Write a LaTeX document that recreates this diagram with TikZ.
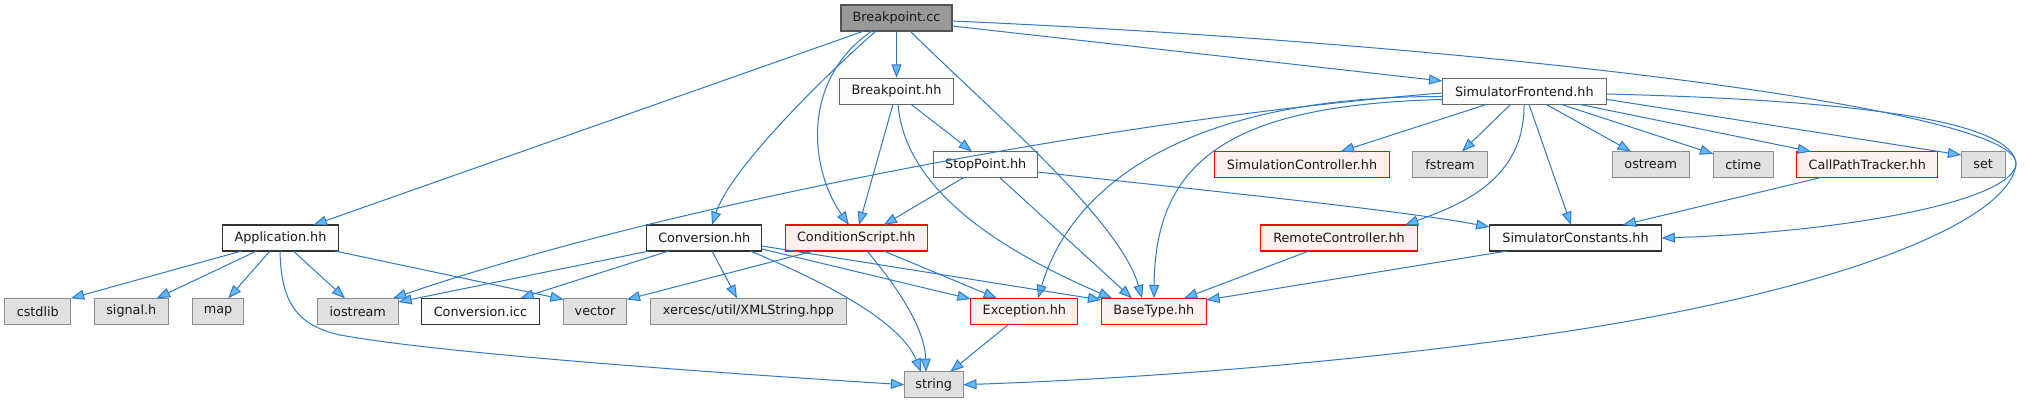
\documentclass[tikz,border=0pt]{standalone}
\usepackage{fontspec}
\setmainfont{DejaVu Sans}
\usetikzlibrary{arrows.meta,calc}
\definecolor{edgec}{HTML}{3079C4}
\definecolor{arrf}{HTML}{63B8FF}
\definecolor{rootfill}{HTML}{999999}
\definecolor{rootdraw}{HTML}{555555}
\definecolor{docfill}{HTML}{FBFDFB}
\definecolor{docdraw}{HTML}{666666}
\definecolor{docdark}{HTML}{333333}
\definecolor{extfill}{HTML}{E0E0E0}
\definecolor{extdraw}{HTML}{8C8C8C}
\definecolor{trfill}{HTML}{FFF0F0}
\definecolor{trdraw}{HTML}{FF0000}
\begin{document}
\begin{tikzpicture}[x=0.75pt,y=-0.75pt,
  font=\fontsize{9.6}{11}\selectfont,
  box/.style={line width=0.9pt, minimum height=19.5pt, inner sep=0pt, anchor=center, text=black!90},
  bw/.style={minimum width=#1*0.75pt},
  rootn/.style={box, fill=rootfill, draw=rootdraw},
  docn/.style={box, fill=docfill, draw=docdraw},
  docd/.style={box, fill=docfill, draw=docdark},
  extn/.style={box, fill=extfill, draw=extdraw},
  trn/.style={box, fill=trfill, draw=trdraw},
  dep/.style={draw=edgec, line width=0.75pt, -{Triangle[length=10pt,width=7.5pt,fill=arrf]}}
]
\useasboundingbox[fill=white] (0,0) rectangle (2028,403);

% row 1
\node[rootn,bw=111] (bcc) at (896.5,18) {Breakpoint.cc};
% row 2
\node[docn,bw=114] (bhh) at (896.5,91.3) {Breakpoint.hh};
\node[docn,bw=164] (sfe) at (1524.3,91.3) {SimulatorFrontend.hh};
% row 3
\node[docn,bw=104] (stp) at (985.7,164.5) {StopPoint.hh};
\node[trn,bw=175] (sctl) at (1302,164.5) {SimulationController.hh};
\node[extn,bw=75] (fst) at (1450,164.5) {fstream};
\node[extn,bw=77] (ost) at (1650.8,164.5) {ostream};
\node[extn,bw=60] (ctm) at (1743.3,164.5) {ctime};
\node[trn,bw=141] (cpt) at (1867.2,164.5) {CallPathTracker.hh};
\node[extn,bw=44] (nset) at (1983.2,164.5) {set};
% row 4
\node[docd,bw=116] (app) at (280.5,238) {Application.hh};
\node[docd,bw=115] (conv) at (704.3,238) {Conversion.hh};
\node[trn,bw=142] (cs) at (856.3,238) {ConditionScript.hh};
\node[trn,bw=157] (rc) at (1339,238) {RemoteController.hh};
\node[docd,bw=172] (sc) at (1575.5,238) {SimulatorConstants.hh};
% row 5
\node[extn,bw=66] (cst) at (37.8,311.3) {cstdlib};
\node[extn,bw=74] (sig) at (131.3,311.3) {signal.h};
\node[extn,bw=51] (map) at (218,311.3) {map};
\node[extn,bw=81] (ios) at (357.8,311.3) {iostream};
\node[docd,bw=118] (cicc) at (480.5,311.3) {Conversion.icc};
\node[extn,bw=63] (vec) at (595,311.3) {vector};
\node[extn,bw=196] (xer) at (748.5,311.3) {xercesc/util/XMLString.hpp};
\node[trn,bw=107] (exc) at (1024.3,311.3) {Exception.hh};
\node[trn,bw=105] (bt) at (1153.8,311.3) {BaseType.hh};
% row 6
\node[extn,bw=59] (str) at (933.7,384.7) {string};

% edges from Breakpoint.cc
\draw[dep] ($(bcc)+(-32.5,13)$) -- ($(app)+(33,-13)$);
\draw[dep] ($(bcc)+(-20.5,13)$) .. controls (820,80) and (730,170) .. ($(conv)+(7.7,-13)$);
\draw[dep] ($(bcc)+(-24.5,13)$) .. controls (800,80) and (810,170) .. ($(cs)+(-7.3,-13)$);
\draw[dep] (bcc.south) -- (bhh.north);
\draw[dep] ($(bcc)+(13.5,13)$) .. controls (990,110) and (1120,220) .. ($(bt)+(-11.8,-13)$);
\draw[dep] ($(bcc)+(55.5,8)$) -- ($(sfe)+(-82,-10.3)$);
\draw[dep] ($(bcc)+(55.5,3)$) .. controls (1500,45) and (2016,110) .. (2016,163)
  .. controls (2016,200) and (1850,232) .. ($(sc)+(86,0)$);

% edges from Breakpoint.hh
\draw[dep] ($(bhh)+(14.5,13)$) -- ($(stp)+(-13.7,-13)$);
\draw[dep] ($(bhh)+(-3.5,13)$) -- ($(cs)+(2.7,-13)$);
\draw[dep] ($(bhh)+(1.5,13)$) .. controls (905,190) and (1000,250) .. ($(bt)+(-41.8,-13)$);

% edges from StopPoint.hh
\draw[dep] ($(stp)+(-22,13)$) -- ($(cs)+(27.4,-13)$);
\draw[dep] ($(stp)+(14,13)$) -- ($(bt)+(-21.8,-13)$);
\draw[dep] ($(stp)+(52,7.5)$) .. controls (1200,190) and (1400,210) .. ($(sc)+(-86,-11)$);

% edges from SimulatorFrontend.hh
\draw[dep] ($(sfe)+(-82,1.7)$) .. controls (1100,120) and (650,210) .. ($(ios)+(35.2,-13)$);
\draw[dep] ($(sfe)+(-82,5.2)$) .. controls (1180,96) and (1070,190) .. ($(exc)+(13.7,-13)$);
\draw[dep] ($(sfe)+(-82,8.2)$) .. controls (1230,105) and (1155,160) .. ($(bt)+(0.2,-13)$);
\draw[dep] ($(sfe)+(-37.3,13)$) -- ($(sctl)+(38.7,-13)$);
\draw[dep] ($(sfe)+(-13.6,13)$) -- ($(fst)+(12,-13)$);
\draw[dep] ($(sfe)+(-0.3,13)$) .. controls (1525,180) and (1460,205) .. ($(rc)+(66,-13)$);
\draw[dep] ($(sfe)+(4.7,13)$) -- ($(sc)+(-4.5,-13)$);
\draw[dep] ($(sfe)+(21.7,13)$) -- ($(ost)+(-19.8,-13)$);
\draw[dep] ($(sfe)+(36.7,13)$) -- ($(ctm)+(-30,-10.5)$);
\draw[dep] ($(sfe)+(54.7,13)$) -- ($(cpt)+(-56.2,-13)$);
\draw[dep] ($(sfe)+(82,8)$) -- ($(nset)+(-22,-9.5)$);
\draw[dep] ($(sfe)+(82,2.7)$) .. controls (1850,100) and (2016,120) .. (2016,165)
  .. controls (2006,230) and (1800,300) .. (1521,338)
  .. controls (1300,368) and (1100,380) .. ($(str)+(29.5,0)$);

% other header edges
\draw[dep] ($(cpt)+(-46.2,13)$) -- ($(sc)+(47.2,-13)$);
\draw[dep] ($(rc)+(-30,13)$) -- ($(bt)+(30.2,-13)$);
\draw[dep] ($(sc)+(-68.5,13)$) -- ($(bt)+(52.5,-11.3)$);

% edges from Application.hh
\draw[dep] ($(app)+(-38.8,13)$) -- ($(cst)+(33,-13)$);
\draw[dep] ($(app)+(-23.8,13)$) -- ($(sig)+(25.4,-13)$);
\draw[dep] ($(app)+(-10.5,13)$) -- ($(map)+(10.3,-13)$);
\draw[dep] ($(app)+(12.8,13)$) -- ($(ios)+(-12.8,-13)$);
\draw[dep] ($(app)+(54.5,13)$) -- ($(vec)+(-31.3,-11.8)$);
\draw[dep] ($(app)+(-0.5,13)$) .. controls (281,300) and (295,325) .. (340,335)
  .. controls (450,355) and (750,375) .. ($(str)+(-29.5,0)$);

% edges from Conversion.hh
\draw[dep] ($(conv)+(-55,13)$) -- ($(ios)+(40.5,-9.3)$);
\draw[dep] ($(conv)+(-35.6,13)$) -- ($(cicc)+(39.8,-13)$);
\draw[dep] ($(conv)+(7.7,13)$) -- ($(xer)+(-11.5,-13)$);
\draw[dep] ($(conv)+(46,13)$) .. controls (820,280) and (900,320) .. ($(str)+(-12.7,-12.7)$);
\draw[dep] ($(conv)+(57.7,11)$) -- ($(exc)+(-53.6,-12.3)$);
\draw[dep] ($(conv)+(57.7,8)$) -- ($(bt)+(-52.5,-11.3)$);

% edges from ConditionScript.hh
\draw[dep] ($(cs)+(-42.6,13)$) -- ($(vec)+(31.7,-11.8)$);
\draw[dep] ($(cs)+(10.7,13)$) .. controls (900,290) and (925,330) .. ($(str)+(-7.7,-12.7)$);
\draw[dep] ($(cs)+(27.4,13)$) -- ($(exc)+(-27.3,-13)$);

% Exception.hh
\draw[dep] ($(exc)+(-15.6,13)$) -- ($(str)+(16.6,-13)$);
\end{tikzpicture}
\end{document}
